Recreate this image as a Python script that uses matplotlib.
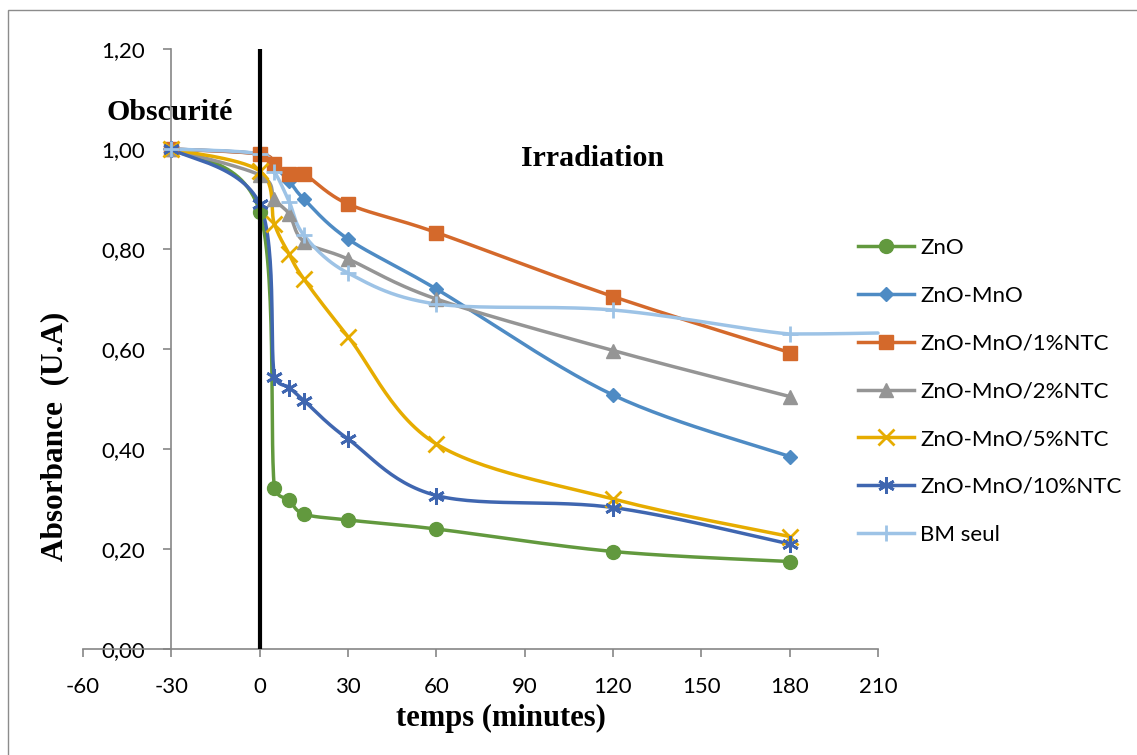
import numpy as np
import matplotlib

matplotlib.use("Agg")
import matplotlib.pyplot as plt
from matplotlib.lines import Line2D
from matplotlib.patches import Rectangle
from matplotlib.ticker import FuncFormatter

plt.rcParams["font.family"] = ["Lato", "DejaVu Sans"]
plt.rcParams["axes.unicode_minus"] = False

times = [-30, 0, 5, 10, 15, 30, 60, 120, 180]
times_bm = [-30, 0, 5, 10, 15, 30, 60, 120, 180, 210]

zno = [1.00, 0.875, 0.322, 0.298, 0.270, 0.258, 0.240, 0.195, 0.175]
zno_mno = [1.00, 0.99, 0.965, 0.936, 0.900, 0.820, 0.720, 0.508, 0.385]
zno_mno_1 = [1.00, 0.99, 0.970, 0.950, 0.950, 0.890, 0.833, 0.705, 0.593]
zno_mno_2 = [1.00, 0.948, 0.900, 0.870, 0.815, 0.780, 0.700, 0.597, 0.505]
zno_mno_5 = [1.00, 0.956, 0.850, 0.790, 0.740, 0.625, 0.410, 0.300, 0.225]
zno_mno_10 = [1.00, 0.890, 0.545, 0.523, 0.497, 0.420, 0.307, 0.283, 0.210]
bm_seul = [1.00, 0.99, 0.955, 0.895, 0.828, 0.752, 0.690, 0.678, 0.630, 0.632]

series = [
    ("ZnO", times, zno, "#62993e", "o", 10),
    ("ZnO-MnO", times, zno_mno, "#4e8bc4", "D", 7.5),
    ("ZnO-MnO/1%NTC", times, zno_mno_1, "#d4692b", "s", 10),
    ("ZnO-MnO/2%NTC", times, zno_mno_2, "#959595", "^", 10),
    ("ZnO-MnO/5%NTC", times, zno_mno_5, "#e6ac00", "x", 11),
    ("ZnO-MnO/10%NTC", times, zno_mno_10, "#3f66b0", (6, 2, 0), 12),
    ("BM seul", times_bm, bm_seul, "#9dc3e6", "+", 12),
]

XMIN, XMAX, YMIN, YMAX = -60, 210, 0, 1.2


def smooth(xs, ys, sx, sy, n=30):
    # Excel-like smoothed line: bezier through the points, control points
    # from the neighbours, kept inside each segment's y range (no overshoot)
    p = np.column_stack([np.asarray(xs) * sx, np.asarray(ys) * sy])
    pts = [p[0]] + list(p) + [p[-1]]
    out = []
    for i in range(1, len(pts) - 2):
        p0, p1, p2, p3 = pts[i - 1], pts[i], pts[i + 1], pts[i + 2]
        c1 = p1 + (p2 - p0) / 6
        c2 = p2 - (p3 - p1) / 6
        lo, hi = min(p1[1], p2[1]), max(p1[1], p2[1])
        c1[1] = np.clip(c1[1], lo, hi)
        c2[1] = np.clip(c2[1], lo, hi)
        t = np.linspace(0, 1, n)[:, None]
        seg = (1 - t) ** 3 * p1 + 3 * (1 - t) ** 2 * t * c1 + 3 * (1 - t) * t ** 2 * c2 + t ** 3 * p2
        out.append(seg if i == 1 else seg[1:])
    out = np.vstack(out)
    return out[:, 0] / sx, out[:, 1] / sy


fig = plt.figure(figsize=(11.37, 7.55), dpi=100)
fig.patches.append(Rectangle((8 / 1137, -0.1), 1.2, 1 - 10 / 755 + 0.1,
                             transform=fig.transFigure, fill=False,
                             edgecolor="#8c8c8c", linewidth=1))
ax = fig.add_axes([83 / 1137, 106 / 755, 795 / 1137, 600 / 755])
ax.set_xlim(XMIN, XMAX)
ax.set_ylim(YMIN, YMAX)

sx = 795 / (XMAX - XMIN)
sy = 600 / (YMAX - YMIN)

handles = []
for name, xs, ys, color, marker, ms in series:
    lx, ly = smooth(xs, ys, sx, sy)
    ax.plot(lx, ly, color=color, lw=2.5, solid_capstyle="round", clip_on=False, zorder=3)
    mew = 2 if marker in ("x", "+", (6, 2, 0)) else 1
    # the last BM point sits under the legend, its marker is not shown
    ax.plot(xs[:9], ys[:9], ls="none", marker=marker, ms=ms, color=color, mew=mew,
            clip_on=False, zorder=4)
    handles.append(Line2D([], [], color=color, lw=2.5, marker=marker, ms=ms, mew=mew))

ax.axvline(0, ymin=0, ymax=1, color="black", lw=3, zorder=5)

for side in ("top", "right"):
    ax.spines[side].set_visible(False)
ax.spines["left"].set_position(("data", -30))
ax.spines["left"].set_color("#868686")
ax.spines["bottom"].set_color("#868686")
ax.spines["left"].set_linewidth(1.2)
ax.spines["bottom"].set_linewidth(1.2)

ax.set_xticks(np.arange(-60, 211, 30))
ax.set_yticks(np.arange(0, 1.21, 0.2))
ax.yaxis.set_major_formatter(FuncFormatter(lambda v, _: f"{v:.2f}".replace(".", ",")))
ax.tick_params(axis="both", colors="#868686", labelcolor="black", labelsize=16,
               length=6, width=1.2)
ax.tick_params(axis="y", pad=13)
ax.tick_params(axis="x", pad=14)

serif = ["Liberation Serif", "DejaVu Serif"]
ax.text(-30.5, 1.072, "Obscurité", family=serif, weight="bold", fontsize=21.5,
        ha="center", va="center")
ax.text(113, 0.982, "Irradiation", family=serif, weight="bold", fontsize=21.5,
        ha="center", va="center")
fig.text(55 / 1137, 1 - 436 / 755, "Absorbance  (U.A)", family=serif, weight="bold",
         fontsize=22.5, rotation=90, ha="center", va="center")
fig.text(501 / 1137, 1 - 718 / 755, "temps (minutes)", family=serif, weight="bold",
         fontsize=22, ha="center", va="center")

fig.legend(handles, [s[0] for s in series], loc="upper left",
           bbox_to_anchor=(838 / 1137, 1 - 218 / 755), frameon=False,
           fontsize=16, handlelength=2.5, labelspacing=1.25, handletextpad=0.3)

fig.savefig("out.png", dpi=100)
